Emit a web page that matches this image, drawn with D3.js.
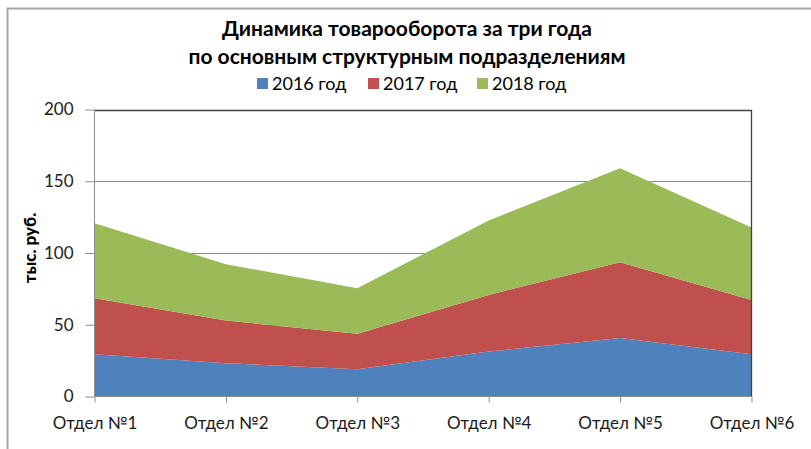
<!DOCTYPE html>
<html>
<head>
<meta charset="utf-8">
<script src="https://cdn.jsdelivr.net/npm/d3@7"></script>
<style>
  html, body { margin: 0; padding: 0; background: #fff; }
  svg { display: block; font-family: Lato, "Open Sans", sans-serif; }
</style>
</head>
<body>
<svg id="chart" width="811" height="449"></svg>
<script>
const categories = ["Отдел №1", "Отдел №2", "Отдел №3", "Отдел №4", "Отдел №5", "Отдел №6"];
const seriesNames = ["2016 год", "2017 год", "2018 год"];
const values2016 = [29.5, 23.2, 19.0, 31.3, 40.7, 29.5];
const values2017 = [39.0, 29.7, 24.7, 39.5, 52.9, 37.8];
const values2018 = [52.3, 39.3, 31.8, 51.9, 65.4, 50.4];
const colors = ["#4F81BD", "#C0504D", "#9BBB59"];
const yTicks = [0, 50, 100, 150, 200];
const titleLines = ["Динамика товарооборота за три года", "по основным структурным подразделениям"];
const yTitle = "тыс. руб.";

const svg = d3.select("#chart");
const W = 811, H = 449;

// outer frame
svg.append("path")
  .attr("d", `M7.5,${H} V8.5 H${W}`)
  .attr("fill", "none").attr("stroke", "#a6a6a6").attr("stroke-width", 2);

const pL = 94.5, pR = 751.5, pT = 109.5, pB = 396.5;

const x = d3.scalePoint().domain(categories).range([pL, pR]);
const y = d3.scaleLinear().domain([0, 200]).range([pB, pT]);

const table = categories.map((c, i) => ({
  cat: c, "2016 год": values2016[i], "2017 год": values2017[i], "2018 год": values2018[i]
}));
const stacked = d3.stack().keys(seriesNames)(table);

// gridlines
svg.append("g").selectAll("line").data(yTicks.filter(t => t > 0 && t < 200)).join("line")
  .attr("x1", pL).attr("x2", pR)
  .attr("y1", d => Math.round(y(d)) + 0.5).attr("y2", d => Math.round(y(d)) + 0.5)
  .attr("stroke", "#8c8c8c").attr("stroke-width", 1);

// areas
const area = d3.area()
  .x((d, i) => x(categories[i]))
  .y0(d => y(d[0]))
  .y1(d => y(d[1]));
svg.append("g").selectAll("path").data(stacked).join("path")
  .attr("d", area)
  .attr("fill", (d, i) => colors[i]);

// top & right border
svg.append("path")
  .attr("d", `M${pL},${Math.round(pT)+0.5} H${pR} V${pB}`)
  .attr("fill", "none").attr("stroke", "#404040").attr("stroke-width", 1.3);

// y axis
const yAxis = svg.append("g")
  .attr("transform", `translate(${pL},0)`)
  .call(d3.axisLeft(y).tickValues(yTicks).tickSize(9).tickPadding(12).tickFormat(d3.format("d")));
yAxis.select(".domain").attr("stroke", "#8c8c8c").attr("d", `M-0,${pT}V${pB}`);
yAxis.selectAll(".tick line").attr("stroke", "#8c8c8c");
yAxis.selectAll(".tick text").attr("fill", "#1a1a1a").style("font-size", "17px").style("font-family", "Lato");

// x axis
const xAxis = svg.append("g")
  .attr("transform", `translate(0,${pB})`)
  .call(d3.axisBottom(x).tickSize(6).tickPadding(14));
xAxis.select(".domain").attr("stroke", "#8c8c8c").attr("d", `M${pL},0H${pR}`);
xAxis.selectAll(".tick line").attr("stroke", "#8c8c8c");
xAxis.selectAll(".tick text").attr("fill", "#1a1a1a").style("font-size", "17px").style("font-family", "Lato");

// y title
svg.append("text")
  .attr("transform", `translate(36,248) rotate(-90)`)
  .attr("text-anchor", "middle")
  .style("font-size", "17px").style("font-weight", "900").attr("fill", "#000")
  .text(yTitle);

// title
svg.append("g").selectAll("text").data(titleLines).join("text")
  .attr("x", 407).attr("y", (d, i) => 36 + i * 28)
  .attr("text-anchor", "middle")
  .style("font-size", "21px").style("font-weight", "bold").attr("fill", "#000")
  .text(d => d);

// legend
const legendX = [257, 368, 477];
const lg = svg.append("g").selectAll("g").data(seriesNames).join("g")
  .attr("transform", (d, i) => `translate(${legendX[i]},78)`);
lg.append("rect").attr("width", 11).attr("height", 11).attr("fill", (d, i) => colors[i]);
lg.append("text").attr("x", 15).attr("y", 12)
  .style("font-size", "18px").attr("fill", "#000").text(d => d);
</script>
</body>
</html>
